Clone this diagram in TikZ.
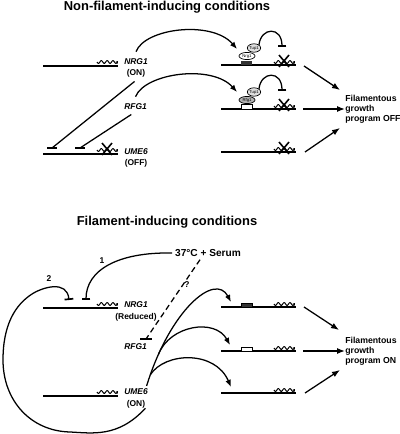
\documentclass[tikz,border=0pt]{standalone}
\usepackage{fontspec}
\setmainfont{Liberation Sans}
\usetikzlibrary{arrows.meta}
\usetikzlibrary{shapes.geometric}

\newcommand{\mrna}[2]{\draw[line width=0.7pt,-{Stealth[length=1.8pt,width=2.4pt]}] plot[domain=0:21,samples=43] ({#1+\x},{#2+1.4*sin(\x*62)});}
\newcommand{\knock}[2]{\draw[line width=1.1pt] (#1-5,#2-6) -- (#1+5,#2+6) (#1+5,#2-6) -- (#1-5,#2+6);}

\tikzset{
  gene/.style={line width=1.4pt},
  link/.style={line width=0.9pt},
  act/.style={link,-{Latex[length=1.8mm,width=1.4mm]}},
  inh/.style={link,-{Bar[width=2.2mm,line width=1.2pt]}},
  tbar/.style={line width=1.2pt},
  result/.style={line width=0.9pt,-{Latex[length=2mm,width=1.5mm]}},
  title/.style={font=\bfseries\fontsize{9.2}{11}\selectfont},
  genename/.style={font=\bfseries\itshape\fontsize{6}{7}\selectfont,anchor=west,inner sep=0pt},
  genestate/.style={font=\bfseries\fontsize{6}{7}\selectfont,inner sep=0pt},
  prog/.style={font=\bfseries\fontsize{6.2}{7.1}\selectfont,align=left,anchor=west,inner sep=0pt},
  prot/.style={draw,ellipse,line width=0.5pt,inner sep=0pt,minimum width=0.33cm,minimum height=0.21cm,font=\fontsize{3}{3}\selectfont},
  site/.style={draw,line width=0.6pt},
}

\begin{document}
\begin{tikzpicture}[x=0.025cm,y=-0.025cm]
  \useasboundingbox (0,0) rectangle (400,434);

  \node[title] (ttop) at (167,7) {Non-filament-inducing conditions};
  \node[title] (tbot) at (167,222) {Filament-inducing conditions};

  % non-inducing
  \draw[gene] (43,66) -- (118,66);
  \mrna{97}{62}
  \node[genename] (nrg) at (124,62) {NRG1};
  \node[genestate] (nrgon) at (136,73) {(ON)};
  \node[genename] (rfg) at (124,107) {RFG1};
  \draw[gene] (43,154) -- (118,154);
  \mrna{97}{150}
  \knock{107}{149}
  \node[genename] (ume) at (124,152) {UME6};
  \node[genestate] (umeoff) at (136,163) {(OFF)};

  \coordinate (b1) at (52,148);
  \coordinate (b2) at (80,148);
  \draw[link] ([xshift=-1pt,yshift=-3pt]nrgon.south) -- (b1);
  \draw[link] ([xshift=-3pt,yshift=-3pt]rfg.south) -- (b2);
  \draw[tbar] (47,148) -- (57,148);
  \draw[tbar] (75,148) -- (85,148);

  \draw[gene] (221,65) -- (296,65);
  \fill[black!80] (241,61) rectangle (252,65);
  \node[prot,fill=gray!25] (tupa) at (254,48) {Tup1};
  \node[prot,fill=white,minimum width=0.4cm,minimum height=0.18cm] (nrgp) at (247,56) {Nrg1};
  \mrna{274}{62}
  \knock{284}{61}
  \coordinate (ta) at (282,47);
  \draw[inh] (tupa.north east) .. controls (261,27) and (282,26) .. (ta);
  \coordinate (pa) at (237,49);
  \draw[act] ([yshift=5pt]nrg.north) .. controls (145,28) and (212,20) .. (pa);

  \draw[gene] (221,109) -- (296,109);
  \draw[site,fill=white] (241,104) rectangle (252,109);
  \node[prot,fill=gray!25] (tupb) at (254,92) {Tup1};
  \node[prot,fill=gray!60,minimum width=0.4cm,minimum height=0.18cm] (rfgp) at (247,100) {Rfg1};
  \mrna{274}{106}
  \knock{284}{105}
  \coordinate (tb) at (282,91);
  \draw[inh] (tupb.north east) .. controls (261,71) and (282,70) .. (tb);
  \coordinate (pb) at (237,92);
  \draw[act] ([yshift=5pt]rfg.north) .. controls (145,73) and (212,64) .. (pb);

  \draw[gene] (221,152) -- (296,152);
  \mrna{274}{149}
  \knock{284}{148}

  \node[prog] (fgoff) at (345,109) {Filamentous\\growth\\program OFF};
  \draw[result] (304,66) -- (340,90);
  \draw[result] (303,109) -- (fgoff.west);
  \draw[result] (305,152) -- (340,128);

  % inducing
  \draw[gene] (43,308) -- (118,308);
  \mrna{97}{304}
  \node[genename] (nrg2) at (124,305) {NRG1};
  \node[genestate] (nrgred) at (136,317) {(Reduced)};
  \node[genename] (rfg2) at (124,347) {RFG1};
  \draw[gene] (43,396) -- (118,396);
  \mrna{97}{392}
  \node[genename] (ume2) at (124,392) {UME6};
  \node[genestate] (umeon) at (136,404) {(ON)};

  \node[font=\bfseries\fontsize{7.2}{8}\selectfont,inner sep=0pt] (serum) at (208,253) {37\textdegree C + Serum};

  \coordinate (k1) at (86,300);
  \coordinate (k2) at (69,300);
  \draw[inh] ([xshift=-2pt]serum.west) .. controls (118,252) and (86,270) .. (k1);
  \node[genestate] (one) at (102,261) {1};
  \draw[inh] (umeon.south east) .. controls (118,438) and (92,433) .. (70,432)
    .. controls (30,431) and (3,400) .. (3,360)
    .. controls (3,325) and (15,305) .. (32,294)
    .. controls (43,287) and (67,280) .. (k2);
  \node[genestate] (two) at (49,279) {2};

  \coordinate (q) at (146,339);
  \draw[link,dash pattern=on 4pt off 2.5pt] ([xshift=-2mm,yshift=-2pt]serum.south) -- (q);
  \draw[tbar] (140,339) -- (152,339);
  \node[genestate] (quest) at (187,285) {?};

  \draw[gene] (221,307) -- (296,307);
  \draw[site,fill=black!80] (241,303) rectangle (252,307);
  \mrna{274}{304}
  \draw[gene] (221,351) -- (296,351);
  \draw[site,fill=white] (241,347) rectangle (252,351);
  \mrna{274}{348}
  \draw[gene] (221,393) -- (296,393);
  \mrna{274}{390}

  \coordinate (u) at ([shift={(-1pt,2pt)}]ume2.north east);
  \coordinate (ra) at (231,302);
  \coordinate (rb) at (230,345);
  \coordinate (rc) at (231,387);
  \draw[act] (u) .. controls (170,310) and (215,272) .. (ra)
    coordinate[pos=0.15] (fa) coordinate[pos=0.05] (fb);
  \draw[act] (fa) .. controls (170,325) and (215,318) .. (rb);
  \draw[act] (fb) .. controls (165,352) and (215,350) .. (rc);

  \node[prog] (fgon) at (345,351) {Filamentous\\growth\\program ON};
  \draw[result] (304,307) -- (339,330);
  \draw[result] (303,351) -- (fgon.west);
  \draw[result] (305,393) -- (340,370);
\end{tikzpicture}
\end{document}
